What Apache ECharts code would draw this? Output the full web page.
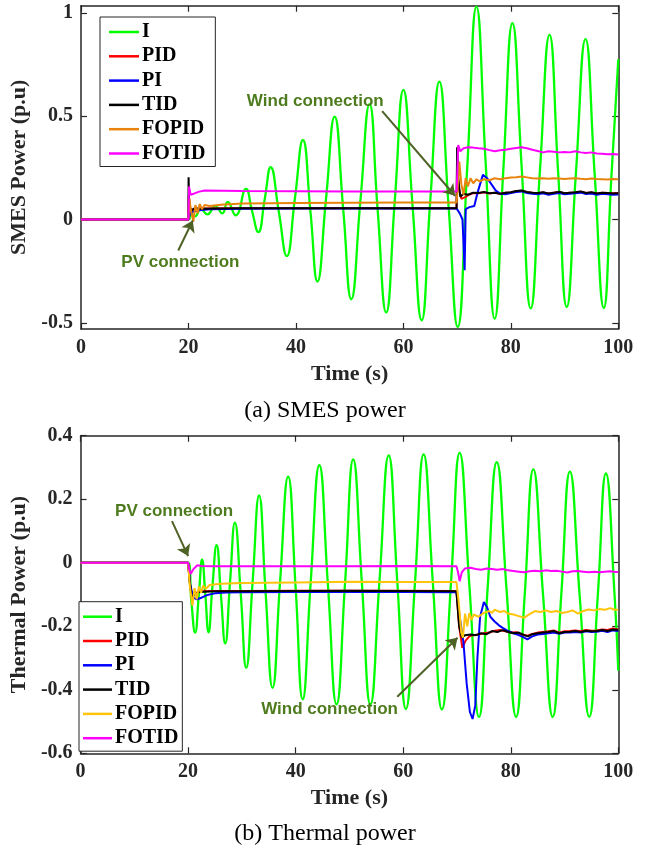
<!DOCTYPE html>
<html>
<head>
<meta charset="utf-8">
<script src="https://cdn.jsdelivr.net/npm/echarts@6/dist/echarts.min.js"></script>
<style>
  html, body { margin: 0; padding: 0; background: #fff; }
  #smes { position: absolute; left: 0; top: 0; width: 650px; height: 425px; }
  #thermal { position: absolute; left: 0; top: 425px; width: 650px; height: 430px; }
</style>
</head>
<body>
<div id="smes"></div>
<div id="thermal"></div>
<script>
// Controller names (legend order)
const controllerNames = ['I', 'PID', 'PI', 'TID', 'FOPID', 'FOTID'];

// Tick values
const timeTicks = [0, 20, 40, 60, 80, 100];
const smesTicks = [-0.5, 0, 0.5, 1];
const thermalTicks = [-0.6, -0.4, -0.2, 0, 0.2, 0.4];

// ---------- SMES power, [time (s), power (p.u)] ----------
const smesI = [[0,0],[20,0],[20.5,0.03],[21.2,0.015],[22.3,0.05],[23.5,0.025],[25,0.065],[26.3,0.03],[27.3,0.085],[28.8,0.02],
  [30.7,0.148],[31.8,0.045],[33.0,-0.061],[34.2,0.1],[35.3,0.253],[36.8,0.04],[38.3,-0.177],[39.8,0.1],[41.3,0.385],[42.7,0.04],
  [44.0,-0.30],[45.6,0.1],[47.2,0.498],[48.8,0.05],[50.3,-0.386],[52.0,0.09],[53.7,0.559],[55.2,0.05],[56.8,-0.45],[58.4,0.09],
  [60.0,0.628],[61.7,0.07],[63.4,-0.488],[65.0,0.09],[66.7,0.667],[68.4,0.07],[70.1,-0.52],[71.9,0.26],[73.6,1.03],[75.3,0.28],
  [77.0,-0.48],[78.6,0.24],[80.3,0.95],[82.0,0.26],[83.7,-0.43],[85.4,0.23],[87.2,0.894],[88.8,0.23],[90.4,-0.423],[92.1,0.22],
  [93.9,0.873],[95.6,0.22],[97.3,-0.428],[98.7,0.2],[100,0.776]];
const smesPID = [[0,0],[20,0],[20.05,0.12],[20.4,0.04],[21,0.05],[22,0.053],[30,0.054],[40,0.055],[50,0.055],[60,0.055],[69.9,0.055],
  [70,0.3],[70.3,0.15],[70.8,0.1],[71.5,0.108],[72.2,0.12],[73,0.128],[74,0.127],[75,0.132],[76,0.126],[77,0.13],[78,0.125],[79,0.13],
  [80,0.131],[81,0.137],[82,0.139],[83,0.132],[84,0.13],[85,0.127],[86,0.131],[87,0.126],[88,0.13],[89,0.133],[90,0.127],[91,0.13],
  [92,0.131],[93,0.135],[94,0.128],[95,0.131],[96,0.126],[97,0.13],[98,0.128],[99,0.127],[100,0.128]];
const smesPI = [[0,0],[20,0],[20.3,0.03],[21,0.04],[22,0.045],[24,0.05],[30,0.052],[40,0.053],[50,0.053],[60,0.053],[69.9,0.053],
  [70.5,0.03],[71,0.0],[71.4,-0.246],[71.6,0.05],[72.3,0.06],[73.2,0.065],[73.8,0.13],[74.8,0.216],[75.6,0.2],[76.4,0.17],[77.2,0.14],
  [78,0.126],[79,0.122],[80,0.128],[81,0.133],[82,0.136],[83,0.128],[84,0.125],[85,0.122],[86,0.127],[87,0.12],[88,0.125],[89,0.128],
  [90,0.122],[91,0.125],[92,0.127],[93,0.13],[94,0.123],[95,0.126],[96,0.12],[97,0.125],[98,0.122],[99,0.12],[100,0.121]];
const smesTID = [[0,0],[20,0],[20.02,0.205],[20.15,0.06],[20.6,0.045],[21.2,0.055],[22,0.052],[30,0.054],[40,0.055],[50,0.055],
  [60,0.055],[69.9,0.055],[70,0.35],[70.2,0.2],[70.6,0.11],[71.2,0.125],[72,0.12],[73,0.13],[74,0.128],[75,0.133],[76,0.127],
  [77,0.13],[78,0.124],[79,0.13],[80,0.132],[81,0.138],[82,0.14],[83,0.133],[84,0.13],[85,0.128],[86,0.132],[87,0.126],[88,0.13],
  [89,0.134],[90,0.127],[91,0.13],[92,0.132],[93,0.136],[94,0.128],[95,0.132],[96,0.126],[97,0.13],[98,0.128],[99,0.126],[100,0.127]];
const smesFOPID = [[0,0],[20,0],[20.15,0.1],[20.5,0.04],[20.9,-0.01],[21.3,0.07],[21.7,0.03],[22.1,0.075],[22.5,0.05],[23,0.07],
  [24,0.065],[26,0.072],[30,0.078],[40,0.08],[50,0.081],[60,0.082],[69.9,0.082],[70.1,0.15],[70.4,0.28],[70.8,0.17],[71.2,0.12],
  [71.6,0.2],[72,0.16],[72.5,0.2],[73,0.175],[73.6,0.195],[74.2,0.185],[75,0.195],[76,0.19],[77,0.2],[78,0.195],[79,0.2],[80,0.203],
  [81,0.205],[82,0.208],[83,0.204],[84,0.2],[85,0.198],[86,0.2],[87,0.197],[88,0.2],[89,0.198],[90,0.196],[91,0.198],[92,0.2],
  [93,0.197],[94,0.195],[95,0.198],[96,0.196],[97,0.195],[98,0.194],[99,0.196],[100,0.195]];
const smesFOTID = [[0,0],[20,0],[20.1,0.16],[20.4,0.12],[21,0.125],[22,0.135],[23,0.14],[30,0.138],[40,0.137],[50,0.136],[60,0.136],
  [69.9,0.136],[70,0.2],[70.2,0.36],[70.6,0.33],[71.2,0.345],[72,0.35],[73,0.348],[74,0.345],[75,0.343],[76,0.336],[77,0.33],
  [78,0.335],[79,0.338],[80,0.342],[81,0.346],[82,0.35],[83,0.345],[84,0.338],[85,0.332],[86,0.325],[87,0.33],[88,0.328],[89,0.325],
  [90,0.327],[91,0.325],[92,0.33],[93,0.325],[94,0.322],[95,0.325],[96,0.32],[97,0.318],[98,0.316],[99,0.317],[100,0.315]];

// ---------- Thermal power, [time (s), power (p.u)] ----------
const thermI = [[0,0],[20,0],[20.6,-0.12],[21.3,-0.22],[22,-0.1],[22.6,0.01],[23.2,-0.1],[23.8,-0.219],[24.5,-0.08],[25.3,0.055],
  [26.1,-0.1],[26.9,-0.254],[27.8,-0.06],[28.7,0.126],[29.8,-0.1],[30.8,-0.331],[32,-0.06],[33.2,0.212],[34.4,-0.09],[35.7,-0.394],
  [37.1,-0.06],[38.6,0.271],[40,-0.08],[41.3,-0.43],[42.8,-0.06],[44.4,0.307],[46,-0.07],[47.6,-0.446],[49.2,-0.06],[50.7,0.325],
  [52.3,-0.06],[53.9,-0.446],[55.6,-0.055],[57.3,0.338],[58.9,-0.06],[60.5,-0.46],[62.2,-0.06],[63.8,0.341],[65.5,-0.06],[67.2,-0.462],
  [68.9,-0.06],[70.5,0.346],[72.3,-0.07],[74.1,-0.485],[75.7,-0.08],[77.4,0.317],[79.2,-0.08],[81.0,-0.485],[82.6,-0.1],[84.2,0.294],
  [86,-0.1],[87.8,-0.485],[89.4,-0.1],[91.0,0.287],[92.8,-0.1],[94.6,-0.485],[96.2,-0.1],[97.7,0.281],[99.3,-0.1],[100,-0.34]];
const thermPID = [[0,0],[20,0],[20.3,-0.06],[20.7,-0.105],[21.2,-0.098],[22,-0.09],[25,-0.089],[30,-0.089],[40,-0.088],[50,-0.088],
  [60,-0.088],[69.9,-0.089],[70.4,-0.2],[71,-0.268],[71.6,-0.245],[72.3,-0.232],[73,-0.228],[74,-0.226],[75,-0.222],[76,-0.22],
  [77,-0.214],[78,-0.212],[79,-0.216],[80,-0.22],[81,-0.219],[82,-0.226],[83.2,-0.23],[84,-0.224],[85,-0.22],[86,-0.218],[87,-0.216],
  [88,-0.213],[89,-0.22],[90,-0.216],[91,-0.215],[92,-0.213],[93,-0.216],[94,-0.212],[95,-0.214],[96,-0.213],[97,-0.21],[98,-0.212],
  [99,-0.207],[100,-0.21]];
const thermPI = [[0,0],[20,0],[20.4,-0.07],[21,-0.11],[21.6,-0.115],[22.5,-0.11],[23.5,-0.102],[25,-0.096],[27,-0.094],[30,-0.093],
  [40,-0.092],[50,-0.091],[60,-0.092],[69.9,-0.093],[70.5,-0.17],[71.2,-0.25],[71.8,-0.38],[72.4,-0.47],[72.9,-0.492],[73.4,-0.45],
  [73.8,-0.3],[74.3,-0.17],[75,-0.124],[75.6,-0.14],[76.2,-0.17],[77,-0.185],[77.8,-0.197],[78.5,-0.205],[79.5,-0.215],[80.5,-0.222],
  [81.5,-0.228],[82.5,-0.236],[83.1,-0.241],[84,-0.232],[85,-0.226],[86,-0.224],[87,-0.222],[88,-0.22],[89,-0.224],[90,-0.22],
  [91,-0.22],[92,-0.218],[93,-0.22],[94,-0.216],[95,-0.218],[96,-0.217],[97,-0.214],[98,-0.218],[99,-0.213],[100,-0.215]];
const thermTID = [[0,0],[20,0],[20.3,-0.06],[20.7,-0.11],[21.2,-0.1],[22,-0.092],[25,-0.09],[30,-0.09],[40,-0.089],[50,-0.088],
  [60,-0.089],[69.9,-0.09],[70.4,-0.2],[70.9,-0.235],[71.5,-0.228],[72.5,-0.226],[73.5,-0.228],[74.5,-0.222],[75.5,-0.225],
  [76.5,-0.215],[77.5,-0.218],[78.5,-0.212],[79.5,-0.218],[80.5,-0.222],[81.5,-0.22],[82.5,-0.228],[83.2,-0.232],[84,-0.225],
  [85,-0.222],[86,-0.22],[87,-0.218],[88,-0.215],[89,-0.222],[90,-0.218],[91,-0.217],[92,-0.215],[93,-0.218],[94,-0.214],
  [95,-0.216],[96,-0.215],[97,-0.212],[98,-0.215],[99,-0.21],[100,-0.212]];
const thermFOPID = [[0,0],[20,0],[20.3,-0.07],[20.8,-0.135],[21.2,-0.08],[21.6,-0.115],[22,-0.075],[22.4,-0.095],[22.8,-0.072],
  [23.3,-0.082],[24,-0.07],[26,-0.066],[30,-0.064],[40,-0.062],[50,-0.06],[60,-0.061],[69.9,-0.061],[70.3,-0.12],[70.8,-0.22],
  [71.1,-0.236],[71.5,-0.16],[71.9,-0.2],[72.3,-0.158],[72.7,-0.18],[73.1,-0.163],[74,-0.17],[75,-0.158],[76,-0.152],[76.5,-0.158],
  [77,-0.148],[78,-0.155],[78.8,-0.152],[79.5,-0.16],[80.5,-0.163],[81.5,-0.168],[82.5,-0.173],[83.5,-0.162],[84.5,-0.152],
  [85.5,-0.155],[86.5,-0.15],[87.5,-0.155],[88.5,-0.152],[89.5,-0.158],[90.5,-0.155],[91.5,-0.15],[92.5,-0.16],[93.5,-0.152],
  [94.5,-0.147],[95.5,-0.15],[96.5,-0.146],[97.5,-0.148],[98.5,-0.143],[99.3,-0.148],[100,-0.148]];
const thermFOTID = [[0,0],[20,0],[20.2,-0.02],[20.5,-0.035],[21,-0.02],[21.7,-0.008],[22.5,-0.01],[25,-0.011],[30,-0.011],
  [40,-0.011],[50,-0.011],[60,-0.01],[69.9,-0.011],[70.2,-0.03],[70.5,-0.058],[70.9,-0.03],[71.5,-0.018],[72.5,-0.016],[73.5,-0.02],
  [74.5,-0.022],[75.5,-0.018],[76.5,-0.02],[77.5,-0.022],[78.5,-0.02],[79.5,-0.024],[80.5,-0.026],[81.5,-0.028],[82.5,-0.03],
  [83.5,-0.027],[84.5,-0.025],[85.5,-0.027],[86.5,-0.024],[87.5,-0.026],[88.5,-0.025],[89.5,-0.028],[90.5,-0.031],[91.5,-0.027],
  [92.5,-0.026],[93.5,-0.028],[94.5,-0.03],[95.5,-0.028],[96.5,-0.03],[97.5,-0.028],[98.5,-0.027],[99.5,-0.029],[100,-0.029]];

// Event annotations: [text, text position, arrow start, arrow tip] in data units
const smesNotes = [
  ['Wind connection', [43.6, 0.573], [56.05, 0.525], [69.6, 0.115]],
  ['PV connection', [18.5, -0.206], [18.1, -0.15], [20.8, -0.005]]
];
const thermNotes = [
  ['PV connection', [17.4, 0.1625], [17.0, 0.131], [20.0, 0.021]],
  ['Wind connection', [46.3, -0.46], [58.9, -0.422], [70.1, -0.236]]
];

const AXIS = '#262626';
const SERIF = '"Liberation Serif", "Times New Roman", serif';
const SANS = '"Liberation Sans", Arial, sans-serif';
const NOTE_TEXT = '#4e7b1d';
const NOTE_ARROW = '#4f6226';

function buildOption(cfg) {
  const lineAxis = { show: true, onZero: false, lineStyle: { color: AXIS, width: 1.5 } };
  const tickStyle = { lineStyle: { color: AXIS, width: 1.2 } };
  const series = cfg.data.map((d, i) => ({
    name: controllerNames[i],
    type: 'line',
    data: d,
    smooth: i === 0 ? 0.5 : false,
    symbol: 'none',
    showSymbol: false,
    animation: false,
    clip: true,
    color: cfg.colors[i],
    lineStyle: { color: cfg.colors[i], width: i === 0 ? 2.3 : 2 },
    emphasis: { disabled: true }
  }));
  // annotations on top of the last series
  const last = series[series.length - 1];
  last.markPoint = {
    silent: true, animation: false,
    symbol: 'circle', symbolSize: 1,
    itemStyle: { color: 'rgba(0,0,0,0)' },
    label: {
      show: true, position: 'inside', formatter: p => p.name,
      color: NOTE_TEXT, fontFamily: SANS, fontWeight: 'bold', fontSize: 17
    },
    data: cfg.notes.map(n => ({ name: n[0], coord: n[1] }))
  };
  last.markLine = {
    silent: true, animation: false,
    symbol: ['none', 'arrow'], symbolSize: 11,
    lineStyle: { color: NOTE_ARROW, width: 2, type: 'solid' },
    label: { show: false },
    emphasis: { disabled: true },
    data: cfg.notes.map(n => [{ coord: n[2] }, { coord: n[3] }])
  };

  return {
    animation: false,
    grid: cfg.grid,
    legend: Object.assign({
      data: controllerNames.map((n, i) => ({ name: n, itemStyle: { color: cfg.colors[i] } })),
      orient: 'vertical',
      icon: 'rect',
      itemHeight: 2.5,
      itemGap: 4.3,
      backgroundColor: '#fff',
      borderColor: AXIS,
      borderWidth: 1,
      borderRadius: 0,
      selectedMode: false,
      textStyle: { fontFamily: SERIF, fontWeight: 'bold', fontSize: 20, lineHeight: 20, color: '#000', padding: [0, 0, 0, -2] }
    }, cfg.legend),
    xAxis: [
      {
        type: 'value', min: 0, max: 100, interval: 20, position: 'bottom',
        axisLine: lineAxis,
        axisTick: Object.assign({ inside: true, length: 6 }, tickStyle),
        axisLabel: { fontFamily: SERIF, fontWeight: 'bold', fontSize: 20, color: AXIS, margin: 9,
          customValues: timeTicks },
        splitLine: { show: false },
        name: 'Time (s)', nameLocation: 'middle', nameGap: 34,
        nameTextStyle: { fontFamily: SERIF, fontWeight: 'bold', fontSize: 22, color: AXIS }
      },
      {
        type: 'value', min: 0, max: 100, interval: 20, position: 'top',
        axisLine: lineAxis,
        axisTick: Object.assign({ inside: true, length: 6 }, tickStyle),
        axisLabel: { show: false },
        splitLine: { show: false }
      }
    ],
    yAxis: [
      {
        type: 'value', min: cfg.yMin, max: cfg.yMax, position: 'left',
        axisLine: lineAxis,
        axisTick: Object.assign({ inside: true, length: 6, customValues: cfg.yTicks }, tickStyle),
        axisLabel: { fontFamily: SERIF, fontWeight: 'bold', fontSize: 20, color: AXIS, margin: 8,
          customValues: cfg.yTicks, formatter: v => String(+v.toFixed(2)) },
        splitLine: { show: false },
        name: cfg.yName, nameLocation: 'middle', nameGap: cfg.yNameGap, nameRotate: 90,
        nameTextStyle: { fontFamily: SERIF, fontWeight: 'bold', fontSize: 22, color: AXIS }
      },
      {
        type: 'value', min: cfg.yMin, max: cfg.yMax, position: 'right',
        axisLine: lineAxis,
        axisTick: Object.assign({ inside: true, length: 6, customValues: cfg.yTicks }, tickStyle),
        axisLabel: { show: false },
        splitLine: { show: false }
      }
    ],
    graphic: [{
      type: 'text', silent: true,
      style: { text: cfg.caption, x: 325, y: cfg.captionY, align: 'center', verticalAlign: 'middle',
        fontFamily: SERIF, fontSize: 24, fill: '#000' }
    }],
    series: series
  };
}

const smesChart = echarts.init(document.getElementById('smes'), null, { renderer: 'canvas' });
smesChart.setOption(buildOption({
  data: [smesI, smesPID, smesPI, smesTID, smesFOPID, smesFOTID],
  colors: ['#00ff00', '#ff0000', '#0000ff', '#000000', '#e8830c', '#ff00ff'],
  notes: smesNotes,
  grid: { left: 81, top: 5.7, width: 537.3, height: 323.3, containLabel: false },
  legend: { left: 100, top: 17, itemWidth: 30, padding: [5, 10, 3, 9] },
  yMin: -0.53, yMax: 1.035, yTicks: smesTicks,
  yName: 'SMES Power (p.u)', yNameGap: 45,
  caption: '(a) SMES power', captionY: 411
}));

const thermalChart = echarts.init(document.getElementById('thermal'), null, { renderer: 'canvas' });
thermalChart.setOption(buildOption({
  data: [thermI, thermPID, thermPI, thermTID, thermFOPID, thermFOTID],
  colors: ['#00ff00', '#ff0000', '#0000ff', '#000000', '#ffc40c', '#ff00ff'],
  notes: thermNotes,
  grid: { left: 76, top: 10.7, width: 542.3, height: 317.6, containLabel: false },
  legend: { left: 79, top: 176.7, itemWidth: 29, padding: [5, 4, 3, 4] },
  yMin: -0.6, yMax: 0.4, yTicks: thermalTicks,
  yName: 'Thermal Power (p.u)', yNameGap: 44,
  caption: '(b) Thermal power', captionY: 409
}));
</script>
</body>
</html>
